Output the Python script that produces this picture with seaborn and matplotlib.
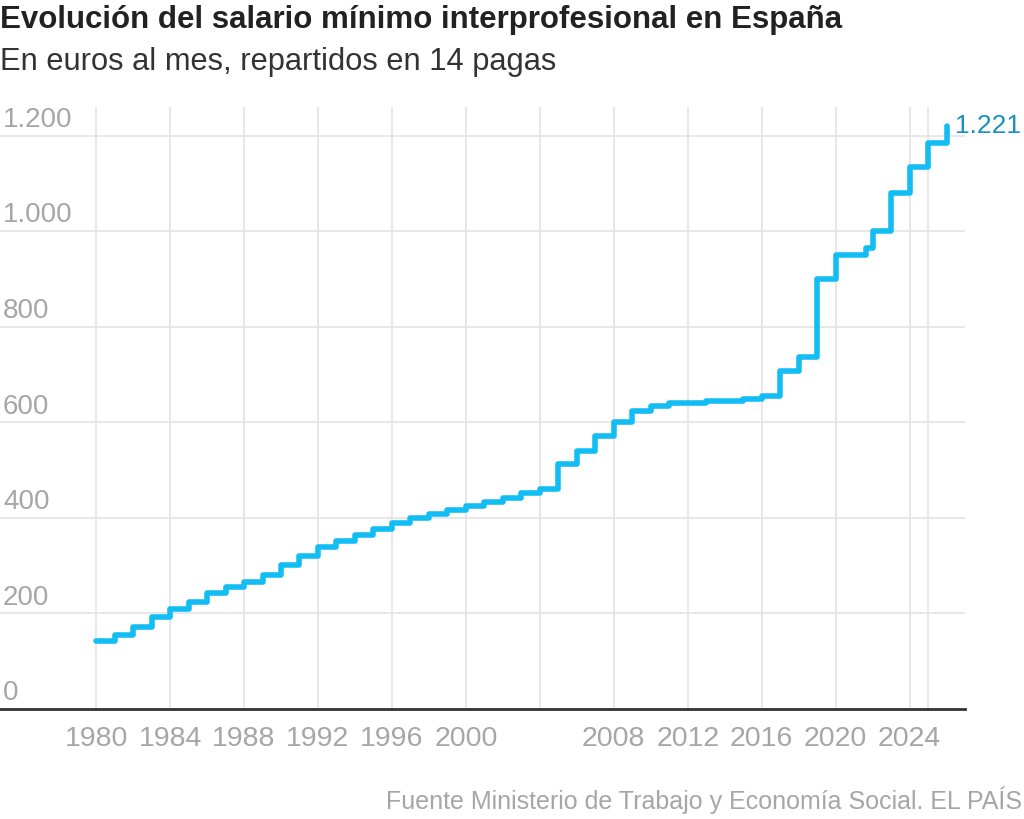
import matplotlib
matplotlib.use("Agg")
import matplotlib.pyplot as plt
import matplotlib.transforms as mtransforms
import seaborn as sns
import pandas as pd

# ---- data ----
years = [1980, 1981, 1982, 1983, 1984, 1985, 1986, 1987, 1988, 1989,
         1990, 1991, 1992, 1993, 1994, 1995, 1996, 1997, 1998, 1999,
         2000, 2001, 2002, 2003, 2004, 2005, 2006, 2007, 2008, 2009,
         2010, 2011, 2012, 2013, 2014, 2015, 2016, 2017, 2018, 2019,
         2020, 2021.67, 2022, 2023, 2024, 2025, 2026]
salario = [142.4, 154.3, 170.9, 193.3, 208.8, 223.9, 242.9, 254.8, 266.3, 280.6,
           300.6, 320.0, 338.2, 351.8, 364.0, 376.8, 390.2, 400.4, 408.9, 416.3,
           424.8, 433.5, 442.2, 451.2, 460.5, 513.0, 540.9, 570.6, 600.0, 624.0,
           633.3, 641.4, 641.4, 645.3, 645.3, 648.6, 655.2, 707.6, 735.9, 900.0,
           950.0, 965.0, 1000.0, 1080.0, 1134.0, 1184.0, 1221.0]
xtick_pos = [1980, 1984, 1988, 1992, 1996, 2000, 2004, 2008, 2012, 2016, 2020, 2024, 2025]
xtick_labels = ["1980", "1984", "1988", "1992", "1996", "2000", "", "2008", "2012", "2016", "2020", "2024", ""]
ytick_pos = [0, 200, 400, 600, 800, 1000, 1200]
ytick_labels = ["0", "200", "400", "600", "800", "1.000", "1.200"]

title = "Evolución del salario mínimo interprofesional en España"
subtitle = "En euros al mes, repartidos en 14 pagas"
source = "Fuente Ministerio de Trabajo y Economía Social. EL PAÍS"
end_label = "1.221"

df = pd.DataFrame({"year": years, "salario": salario})

sns.set_theme(style="white")
plt.rcParams["font.family"] = ["Liberation Sans", "DejaVu Sans"]

fig = plt.figure(figsize=(10.24, 8.19), dpi=100)
ax = fig.add_axes([0.0, 1 - 709 / 819, 965 / 1024, (709 - 107) / 819])

LINE = "#12bdf3"
GRID = "#e3e3e3"
GRAY = "#a6a6a6"

sns.lineplot(data=df, x="year", y="salario", ax=ax, color=LINE, linewidth=4.0,
             drawstyle="steps-post", estimator=None, sort=False, zorder=3)

ax.set_xlim(1974.8, 2027.0)
ax.set_ylim(0, 1260)
ax.set_xticks(xtick_pos)
ax.set_xticklabels(xtick_labels, color=GRAY, fontsize=20.5)
ax.set_yticks(ytick_pos)
ax.set_yticklabels([])
ax.tick_params(axis="both", length=0)
ax.tick_params(axis="x", pad=12)
ax.grid(True, color=GRID, linewidth=1.2)
ax.set_axisbelow(True)
for s in ["top", "right", "left"]:
    ax.spines[s].set_visible(False)
ax.spines["bottom"].set_color("#333333")
ax.spines["bottom"].set_linewidth(2)
ax.spines["bottom"].set_zorder(4)
ax.set_xlabel("")
ax.set_ylabel("")

trans = mtransforms.blended_transform_factory(ax.transAxes, ax.transData)
off = mtransforms.ScaledTranslation(0, 2 / 72, fig.dpi_scale_trans)
for v, lab in zip(ytick_pos, ytick_labels):
    ax.text(0.003, v, lab, transform=trans + off, ha="left", va="bottom",
            color=GRAY, fontsize=20)

ax.annotate(end_label, xy=(years[-1], salario[-1]), xytext=(6, 0),
            textcoords="offset points", color="#1c8fc4", fontsize=19,
            ha="left", va="center", annotation_clip=False)

fig.text(0.0, 1 - 20 / 819, title, fontsize=22.5, fontweight="bold", ha="left", va="center",
         color="#222222")
fig.text(0.0, 1 - 62 / 819, subtitle, fontsize=22.2, ha="left", va="center", color="#333333")
fig.text(1 - 2 / 1024, 1 - 800 / 819, source, fontsize=18, ha="right", va="center", color=GRAY)

fig.savefig("out.png", dpi=100)
